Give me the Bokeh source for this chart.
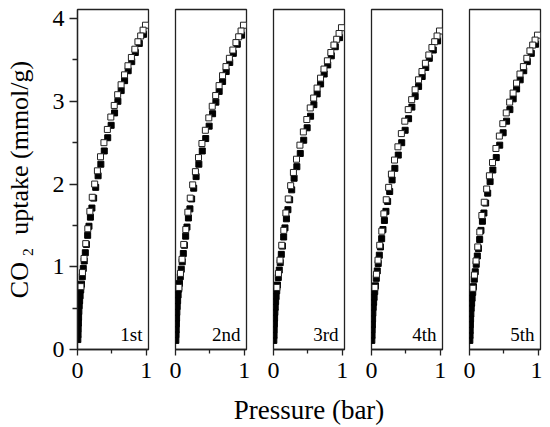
from bokeh.plotting import figure
from bokeh.layouts import row, column
from bokeh.models import Range1d, FixedTicker, Label
from bokeh.embed import file_html
from bokeh.resources import INLINE

cycles = ["1st", "2nd", "3rd", "4th", "5th"]

p_ads = [0.005, 0.008, 0.010, 0.013, 0.016, 0.020, 0.025, 0.031, 0.038, 0.047,
         0.058, 0.070, 0.084, 0.098, 0.114, 0.130, 0.148, 0.167, 0.188, 0.210,
         0.235, 0.265, 0.300, 0.340, 0.390, 0.440, 0.490, 0.540, 0.588, 0.636,
         0.686, 0.738, 0.790, 0.842, 0.900, 0.962]
u_ads_1 = [0.12, 0.18, 0.25, 0.32, 0.39, 0.46, 0.53, 0.59, 0.65, 0.72, 0.79, 0.88,
           0.98, 1.07, 1.17, 1.27, 1.38, 1.49, 1.60, 1.71, 1.83, 1.96, 2.10, 2.24,
           2.40, 2.56, 2.71, 2.86, 3.00, 3.13, 3.25, 3.37, 3.48, 3.59, 3.70, 3.81]
u_ads_2 = [0.11, 0.18, 0.24, 0.31, 0.38, 0.45, 0.52, 0.59, 0.66, 0.73, 0.80, 0.88,
           0.97, 1.06, 1.16, 1.26, 1.37, 1.48, 1.59, 1.70, 1.82, 1.95, 2.09, 2.24,
           2.40, 2.55, 2.70, 2.85, 2.99, 3.12, 3.24, 3.36, 3.47, 3.58, 3.69, 3.80]
u_ads_3 = [0.11, 0.17, 0.24, 0.31, 0.38, 0.45, 0.51, 0.58, 0.64, 0.71, 0.78, 0.87,
           0.96, 1.05, 1.15, 1.25, 1.36, 1.47, 1.58, 1.69, 1.81, 1.93, 2.07, 2.21,
           2.37, 2.53, 2.68, 2.82, 2.96, 3.09, 3.21, 3.33, 3.44, 3.55, 3.66, 3.77]
u_ads_4 = [0.11, 0.17, 0.24, 0.30, 0.37, 0.44, 0.51, 0.57, 0.63, 0.70, 0.77, 0.86,
           0.95, 1.04, 1.14, 1.24, 1.34, 1.45, 1.56, 1.67, 1.79, 1.91, 2.05, 2.19,
           2.35, 2.50, 2.65, 2.79, 2.93, 3.06, 3.18, 3.30, 3.41, 3.52, 3.62, 3.73]
u_ads_5 = [0.11, 0.17, 0.23, 0.30, 0.37, 0.43, 0.50, 0.56, 0.62, 0.69, 0.76, 0.85,
           0.94, 1.03, 1.13, 1.22, 1.33, 1.44, 1.55, 1.65, 1.77, 1.89, 2.03, 2.17,
           2.32, 2.47, 2.62, 2.76, 2.90, 3.03, 3.15, 3.26, 3.37, 3.48, 3.58, 3.69]

p_des = [0.990, 0.955, 0.920, 0.880, 0.835, 0.785, 0.735, 0.685, 0.635, 0.585,
         0.535, 0.485, 0.435, 0.385, 0.335, 0.290, 0.250, 0.215, 0.180, 0.150,
         0.120, 0.095, 0.072, 0.050]
u_des_1 = [3.92, 3.86, 3.79, 3.72, 3.63, 3.53, 3.43, 3.32, 3.20, 3.08, 2.95, 2.81,
           2.66, 2.50, 2.33, 2.16, 2.00, 1.84, 1.67, 1.46, 1.28, 1.10, 0.93, 0.76]
u_des_2 = [3.92, 3.85, 3.78, 3.71, 3.62, 3.52, 3.42, 3.31, 3.19, 3.07, 2.94, 2.80,
           2.65, 2.49, 2.32, 2.15, 1.99, 1.83, 1.66, 1.45, 1.27, 1.09, 0.92, 0.75]
u_des_3 = [3.89, 3.82, 3.75, 3.68, 3.59, 3.49, 3.39, 3.28, 3.16, 3.04, 2.92, 2.78,
           2.63, 2.47, 2.30, 2.14, 1.98, 1.82, 1.65, 1.44, 1.26, 1.08, 0.92, 0.75]
u_des_4 = [3.85, 3.79, 3.72, 3.65, 3.56, 3.46, 3.36, 3.26, 3.14, 3.02, 2.90, 2.76,
           2.61, 2.45, 2.29, 2.12, 1.96, 1.81, 1.64, 1.43, 1.26, 1.08, 0.91, 0.75]
u_des_5 = [3.80, 3.74, 3.68, 3.61, 3.52, 3.42, 3.33, 3.22, 3.10, 2.99, 2.86, 2.73,
           2.58, 2.43, 2.26, 2.10, 1.94, 1.78, 1.62, 1.42, 1.24, 1.07, 0.90, 0.74]

u_ads = [u_ads_1, u_ads_2, u_ads_3, u_ads_4, u_ads_5]
u_des = [u_des_1, u_des_2, u_des_3, u_des_4, u_des_5]

x_ticks = [0, 1]
x_minor = [0.5]
y_ticks = [0, 1, 2, 3, 4]
y_minor = [0.5, 1.5, 2.5, 3.5]

FONT = "Liberation Serif"
AX = "#222222"
figs = []
for i in range(5):
    if i == 0:
        w, bl, br = 161, 77, 13
    elif i == 4:
        w, bl, br = 87, 14, 2
    else:
        w, bl, br = 98, 14, 13
    p = figure(width=w, height=389, min_border_left=bl, min_border_right=br,
               min_border_top=9, min_border_bottom=40,
               x_range=Range1d(0, 1.034), y_range=Range1d(0, 4.11),
               output_backend="svg", toolbar_location=None)
    p.background_fill_color = "white"
    p.border_fill_color = "white"
    p.outline_line_color = AX
    p.outline_line_width = 1.3
    p.grid.visible = False

    xa = p.xaxis[0]
    xa.ticker = FixedTicker(ticks=x_ticks, minor_ticks=x_minor)
    xa.major_tick_in = 0
    xa.major_tick_out = 6
    xa.minor_tick_in = 0
    xa.minor_tick_out = 4
    xa.axis_line_color = AX
    xa.axis_line_width = 1.3
    xa.major_tick_line_color = AX
    xa.minor_tick_line_color = AX
    xa.major_tick_line_width = 1.3
    xa.minor_tick_line_width = 1.3
    xa.major_label_text_font = FONT
    xa.major_label_text_font_size = "24px"
    xa.major_label_text_color = "black"
    xa.major_label_standoff = 7

    ya = p.yaxis[0]
    if i == 0:
        ya.ticker = FixedTicker(ticks=y_ticks, minor_ticks=y_minor)
        ya.major_tick_in = 0
        ya.major_tick_out = 8
        ya.minor_tick_in = 0
        ya.minor_tick_out = 5
        ya.axis_line_color = AX
        ya.axis_line_width = 1.3
        ya.major_tick_line_color = AX
        ya.minor_tick_line_color = AX
        ya.major_tick_line_width = 1.3
        ya.minor_tick_line_width = 1.3
        ya.major_label_text_font = FONT
        ya.major_label_text_font_size = "24px"
        ya.major_label_text_color = "black"
        ya.major_label_standoff = 5
        ya.axis_label = "CO\u2009\u2082\u2002uptake (mmol/g)"
        ya.axis_label_text_font = FONT
        ya.axis_label_text_font_size = "26px"
        ya.axis_label_text_font_style = "normal"
        ya.axis_label_text_color = "black"
        ya.axis_label_standoff = 16
    else:
        ya.visible = False

    p.scatter(p_ads, u_ads[i], marker="square", size=6,
              fill_color="black", line_color="black", line_width=1)
    p.scatter(p_des, u_des[i], marker="square", size=6,
              fill_color="white", line_color=AX, line_width=1)

    p.add_layout(Label(x=65, y=15, x_units="screen", y_units="screen",
                       text=cycles[i], text_align="right",
                       text_baseline="alphabetic", text_font=FONT,
                       text_font_size="19px", text_color="black"))
    figs.append(p)

lab = figure(width=542, height=37, min_border=0, x_axis_type=None, y_axis_type=None,
             x_range=Range1d(0, 542), y_range=Range1d(0, 37),
             output_backend="svg", toolbar_location=None)
lab.outline_line_color = None
lab.grid.visible = False
lab.add_layout(Label(x=308.5, y=17, x_units="screen", y_units="screen",
                     text="Pressure (bar)", text_align="center",
                     text_baseline="alphabetic", text_font=FONT,
                     text_font_size="27px", text_color="black"))

layout = column(row(*figs), lab)
open("out.html", "w").write(file_html(layout, INLINE))
